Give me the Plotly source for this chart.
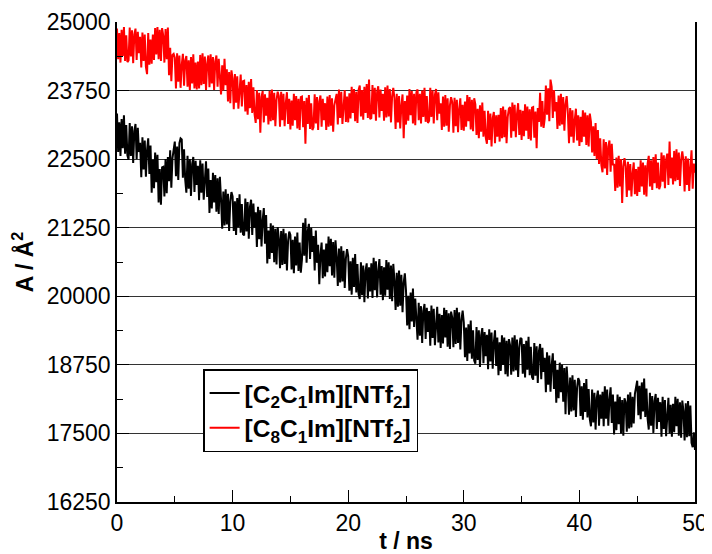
import plotly.graph_objects as go

# sampling grid (ns)
t_ns = [round(i * 0.1, 1) for i in range(501)]

# [C8C1Im][NTf2] area trace (Å^2), one row per ns
a_c8 = [
    24880, 24320, 24800, 24260, 24860, 24380, 24910, 24290, 24760, 24270,
    24300, 24900, 24370, 24850, 24250, 24770, 24880, 24310, 24820, 24430,
    24730, 24170, 24810, 24290, 24770, 24180, 24050, 24800, 24220, 24680,
    24240, 24770, 24310, 24890, 24410, 24910, 24320, 24860, 24290, 24890,
    24750, 24260, 24870, 24320, 24900, 24030, 24530, 23920, 24400, 24420,
    24350, 23790, 24430, 23910, 24390, 23800, 24220, 24420, 23840, 24300,
    24380, 23820, 24300, 23760, 24360, 23880, 24410, 23790, 24260, 23770,
    24280, 23790, 24400, 23850, 24430, 23870, 24370, 23760, 24240, 24390,
    23810, 24410, 23880, 24360, 23760, 24280, 24390, 23820, 24330, 23940,
    23680, 24210, 23750, 24330, 23850, 24140, 23550, 24090, 23520, 24120,
    23970, 23410, 24050, 23530, 24010, 23420, 23840, 24040, 23460, 23920,
    23930, 23370, 23850, 23310, 23910, 23430, 23960, 23340, 23810, 23320,
    23160, 23760, 23230, 23710, 22980, 23630, 23740, 23170, 23680, 23290,
    23620, 23130, 23740, 23190, 23770, 23210, 23710, 23100, 23580, 23730,
    23650, 23090, 23730, 23210, 23690, 23100, 23520, 23720, 23140, 23600,
    23040, 23570, 23110, 23690, 23210, 23650, 23060, 23600, 23030, 23630,
    23640, 23080, 23560, 22780, 23620, 23140, 23670, 23050, 23520, 23030,
    23080, 23680, 23150, 23630, 23030, 23550, 23660, 23090, 23600, 23210,
    23520, 23030, 23640, 23090, 23670, 23110, 23610, 23000, 23480, 23630,
    23690, 23130, 23770, 23250, 23730, 23140, 23560, 23760, 23180, 23640,
    23170, 23700, 23240, 23820, 23340, 23780, 23190, 23730, 23160, 23760,
    23840, 23280, 23760, 23220, 23820, 23340, 23870, 23250, 23950, 23230,
    23250, 23850, 23320, 23800, 23200, 23720, 23830, 23260, 23770, 23380,
    23690, 23200, 23810, 23260, 23840, 23280, 23780, 23170, 23650, 23800,
    23610, 23050, 23690, 23170, 23650, 23060, 23480, 23680, 22880, 23560,
    23130, 23660, 23200, 23780, 23300, 23740, 23150, 23690, 23120, 23720,
    23770, 23210, 23690, 23150, 23750, 23270, 23800, 23180, 23650, 23160,
    23200, 23800, 23270, 23750, 23150, 23670, 23780, 23210, 23720, 23330,
    23520, 23030, 23640, 23090, 23670, 23110, 23610, 23000, 23480, 23630,
    23540, 22980, 23620, 23100, 23580, 22990, 23410, 23610, 23030, 23490,
    23020, 23550, 23090, 23670, 23190, 23630, 23040, 23580, 23010, 23610,
    23500, 22940, 23420, 22880, 23480, 23000, 23530, 22910, 23380, 22890,
    22780, 23380, 22850, 23330, 22730, 23250, 23360, 22790, 23300, 22910,
    23310, 22820, 23430, 22880, 23460, 22900, 23400, 22790, 23270, 23420,
    23450, 22890, 23530, 23010, 23490, 22900, 23320, 23520, 22940, 23400,
    22850, 23380, 22920, 23500, 23020, 23460, 22870, 23410, 22840, 23440,
    23450, 22890, 23370, 22700, 23430, 23180, 23710, 23090, 23560, 23070,
    23240, 23840, 23310, 23790, 23190, 23950, 23820, 23250, 23760, 23370,
    23540, 23050, 23660, 23110, 23690, 23130, 23630, 23020, 23500, 23650,
    23350, 22790, 23430, 22910, 23390, 22800, 23220, 23420, 22840, 23300,
    22740, 23270, 22810, 23390, 22910, 23350, 22760, 23300, 22730, 23330,
    23180, 22620, 23100, 22560, 23160, 22500, 23030, 22410, 22880, 22390,
    22260, 22860, 22330, 22810, 22210, 22730, 22840, 22270, 22780, 22390,
    22410, 21920, 22530, 21980, 22560, 22000, 22500, 21700, 22370, 22520,
    22370, 21810, 22450, 21930, 22410, 21820, 22240, 22440, 21860, 22320,
    21830, 22360, 21900, 22480, 22000, 22440, 21850, 22390, 21820, 22420,
    22560, 22000, 22480, 21940, 22540, 22060, 22590, 21970, 22440, 21950,
    22020, 22620, 22090, 22570, 21970, 22490, 22600, 22030, 22820, 22150,
    22530, 22040, 22650, 22100, 22680, 22120, 22620, 22010, 22490, 22640,
    22470, 21910, 22550, 22030, 22510, 21920, 22340, 22660, 21960, 22420,
    22250,
]

# [C2C1Im][NTf2] area trace (Å^2), one row per ns
a_c2 = [
    23330, 22630, 23170, 22560, 23230, 22700, 23300, 22600, 23120, 22570,
    22490, 23160, 22560, 23100, 22430, 23010, 23140, 22500, 23070, 22630,
    22800, 22170, 22900, 22310, 22840, 22180, 22660, 22880, 22230, 22750,
    21890, 22490, 21970, 22620, 22080, 22580, 21710, 22320, 21670, 22350,
    22360, 21820, 22500, 21880, 22540, 22100, 22660, 21980, 22520, 22690,
    22820, 22190, 22730, 22120, 22790, 22880, 22860, 22160, 22680, 22130,
    21890, 22560, 21960, 22500, 21830, 22410, 22540, 21900, 22470, 22030,
    22380, 21750, 22480, 21890, 22420, 21760, 22240, 22460, 21810, 22330,
    21520, 22120, 21600, 22250, 21710, 22210, 21540, 22150, 21500, 22180,
    21770, 21230, 21910, 21290, 21950, 21310, 21870, 21190, 21730, 21900,
    21820, 21190, 21730, 21120, 21790, 21260, 21860, 21160, 21680, 21130,
    21110, 21780, 21180, 21720, 21050, 21630, 21760, 21120, 21690, 21250,
    21530, 20900, 21630, 21040, 21570, 20910, 21390, 21610, 20960, 21480,
    20600, 21200, 20680, 21330, 20790, 21290, 20620, 21230, 20580, 21260,
    21050, 20510, 21190, 20570, 21230, 20590, 21150, 20470, 21010, 21180,
    21120, 20490, 21030, 20420, 21090, 20560, 21160, 20460, 20980, 20430,
    20670, 21340, 20740, 21420, 20610, 21190, 21320, 20680, 21250, 20810,
    21100, 20470, 21200, 20610, 20940, 20220, 20760, 20980, 20330, 20850,
    20360, 20960, 20440, 21090, 20550, 21050, 20380, 20990, 20340, 21020,
    20730, 20190, 20870, 20250, 20910, 20270, 20830, 20150, 20690, 20860,
    20730, 20100, 20640, 20030, 20700, 20170, 20770, 20070, 20590, 20040,
    19950, 20620, 20020, 20560, 19890, 20470, 20600, 19960, 20530, 20090,
    20600, 19970, 20700, 20110, 20640, 19980, 20460, 20680, 20030, 20550,
    19930, 20530, 20010, 20660, 20120, 20620, 19950, 20560, 19910, 20590,
    20290, 19750, 20430, 19810, 20470, 19830, 20390, 19710, 20250, 20420,
    20100, 19470, 20010, 19400, 20070, 19540, 20140, 19440, 19960, 19410,
    19210, 19880, 19280, 19820, 19150, 19730, 19860, 19220, 19790, 19350,
    19730, 19100, 19830, 19240, 19770, 19110, 19590, 19810, 19160, 19680,
    19060, 19660, 19140, 19790, 19250, 19750, 19080, 19690, 19040, 19720,
    19610, 19070, 19750, 19130, 19790, 19150, 19710, 19030, 19570, 19740,
    19520, 18890, 19430, 18820, 19490, 18960, 19560, 18860, 19380, 18830,
    18770, 19440, 18840, 19380, 18710, 19290, 19420, 18780, 19350, 18910,
    19300, 18670, 19400, 18810, 19340, 18680, 19160, 19380, 18730, 19250,
    18560, 19160, 18640, 19290, 18750, 19250, 18580, 19190, 18540, 19220,
    19110, 18570, 19250, 18630, 19290, 18650, 19210, 18530, 19070, 19240,
    19220, 18590, 19130, 18520, 19190, 18660, 19260, 18560, 19080, 18530,
    18480, 19150, 18550, 19090, 18420, 19000, 19130, 18490, 19060, 18620,
    18880, 18250, 18980, 18390, 18920, 18260, 18740, 18960, 18310, 18830,
    18060, 18660, 18140, 18790, 18250, 18750, 18080, 18690, 17850, 18720,
    18380, 17840, 18520, 17900, 18560, 17920, 18480, 17800, 18340, 18510,
    18450, 17820, 18360, 17750, 18420, 17890, 18490, 17790, 18310, 17760,
    17630, 18300, 17700, 18240, 17570, 18150, 18280, 17640, 18210, 17770,
    18260, 17630, 18360, 17770, 18300, 17640, 18120, 18340, 17690, 18210,
    17480, 18080, 17560, 18210, 17670, 18170, 17500, 18110, 17460, 18140,
    18070, 17530, 18210, 17590, 18250, 17610, 18170, 17680, 18220, 18390,
    18460, 17830, 18370, 17760, 18430, 17900, 18500, 17800, 18320, 17770,
    17570, 18240, 17640, 18180, 17510, 18090, 18220, 17580, 18150, 17710,
    18070, 17440, 18170, 17580, 18110, 17450, 17930, 18150, 17500, 18020,
    17440, 18040, 17520, 18170, 17630, 18130, 17460, 18070, 17420, 18100,
    17910, 17370, 18050, 17430, 18090, 17450, 18010, 17330, 17250, 17520,
    17200,
]

y_ticks = [16250, 17500, 18750, 20000, 21250, 22500, 23750, 25000]
y_ticktext = [str(v) for v in y_ticks]
x_ticks = [0, 10, 20, 30, 40, 50]
x_ticktext = [str(v) for v in x_ticks]

names = ["<b>[C<sub>2</sub>C<sub>1</sub>Im][NTf<sub>2</sub>]</b>",
         "<b>[C<sub>8</sub>C<sub>1</sub>Im][NTf<sub>2</sub>]</b>"]

FONT = "Liberation Sans, Arial, Helvetica, sans-serif"

fig = go.Figure()
fig.add_trace(go.Scatter(x=t_ns, y=a_c2, mode="lines", name=names[0],
                         line=dict(color="black", width=2)))
fig.add_trace(go.Scatter(x=t_ns, y=a_c8, mode="lines", name=names[1],
                         line=dict(color="#ff0000", width=2)))

# the page body adds an 8px offset, so the figure is 8px smaller
fig.update_layout(
    width=704, height=546,
    margin=dict(l=109, r=17, t=14, b=52),
    paper_bgcolor="white", plot_bgcolor="white",
    font=dict(family=FONT, color="black", size=23),
    showlegend=True,
    legend=dict(
        x=0.149, y=0.277, xanchor="left", yanchor="top",
        bgcolor="white", bordercolor="black", borderwidth=1.5,
        font=dict(size=24.5, family=FONT, color="black"),
        itemwidth=30, tracegroupgap=0,
    ),
    xaxis=dict(
        range=[0, 50], tickvals=x_ticks, ticktext=x_ticktext, automargin=False,
        ticks="inside", ticklen=12, tickwidth=1, tickcolor="black",
        minor=dict(dtick=5, ticks="inside", ticklen=6, tickcolor="black", showgrid=False),
        showline=True, linecolor="black", linewidth=1.5, mirror=False,
        showgrid=False, zeroline=False,
        tickfont=dict(size=23),
        title=dict(text="<b>t / ns</b>", font=dict(size=23), standoff=4),
    ),
    yaxis=dict(
        range=[16250, 25000], tickvals=y_ticks, ticktext=y_ticktext, automargin=False,
        ticks="inside", ticklen=12, tickwidth=1, tickcolor="black",
        minor=dict(dtick=625, tick0=16250, ticks="inside", ticklen=6, tickcolor="black", showgrid=False),
        showline=True, linecolor="black", linewidth=1.5, mirror=True,
        showgrid=True, gridcolor="#333333", gridwidth=1, zeroline=False,
        tickfont=dict(size=23),
        title=dict(text="<b>A / Å<sup>2</sup></b>", font=dict(size=23), standoff=8),
    ),
)

fig.write_html("out.html")
